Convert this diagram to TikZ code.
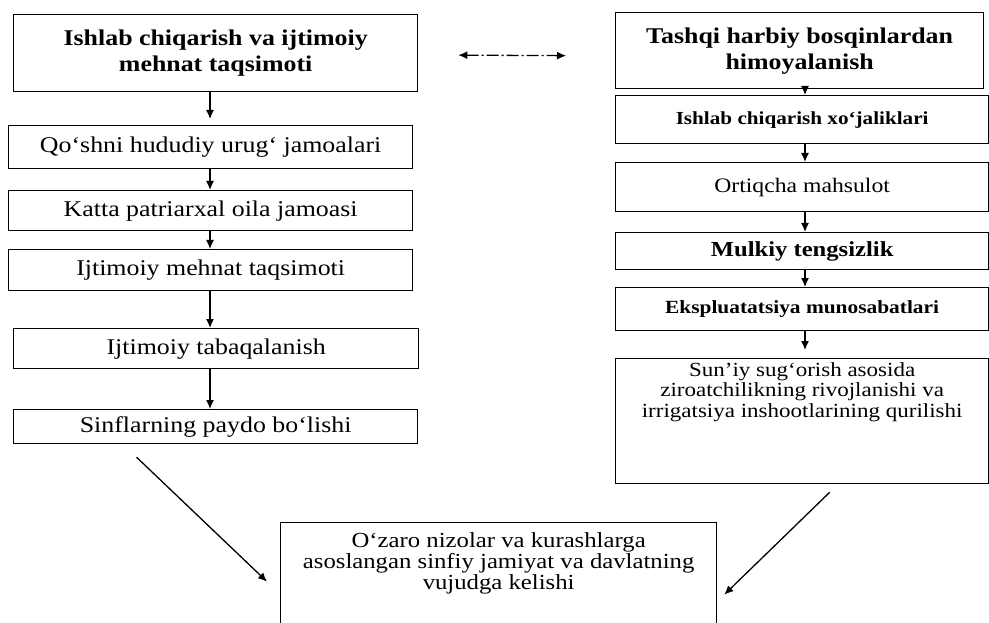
\documentclass[tikz,border=0pt]{standalone}
\usepackage{fontspec}
\setmainfont{Liberation Serif}[FakeStretch=1.15]
\usetikzlibrary{arrows.meta,calc}
\begin{document}
\begin{tikzpicture}[x=1pt,y=-1pt,
  box/.style={draw, line width=1.3pt, inner sep=0pt, align=center, anchor=north west},
  bigb/.style={font=\fontsize{22.5}{26}\selectfont\bfseries},
  reg/.style={font=\fontsize{22.5}{24}\selectfont},
  small/.style={font=\fontsize{20}{20.5}\selectfont},
  bsmall/.style={font=\fontsize{21.5}{21}\selectfont},
  arr/.style={line width=1.3pt, -{Latex[length=9pt,width=8pt]}},
  dbl/.style={line width=1.3pt, dash pattern=on 12pt off 3pt on 2pt off 3pt, {Latex[length=9pt,width=8pt]}-{Latex[length=9pt,width=8pt]}}]
\useasboundingbox (0,0) rectangle (989,623);
\clip (0,0) rectangle (989,623);
% left column
\node[box, bigb, minimum width=404pt, minimum height=77pt] (l1) at (13,14) {Ishlab chiqarish va ijtimoiy\\mehnat taqsimoti};
\node[box, reg, minimum width=404pt, minimum height=43pt] (l2) at (8,125) {Qo‘shni hududiy urug‘ jamoalari};
\node[box, reg, minimum width=404pt, minimum height=40pt] (l3) at (8,190) {Katta patriarxal oila jamoasi};
\node[box, reg, minimum width=404pt, minimum height=41pt] (l4) at (8,249) {Ijtimoiy mehnat taqsimoti};
\node[box, reg, minimum width=405pt, minimum height=40pt] (l5) at (13,328) {Ijtimoiy tabaqalanish};
\node[box, reg, minimum width=404pt, minimum height=34pt] (l6) at (13,409) {Sinflarning paydo bo‘lishi};
% right column
\node[box, bigb, minimum width=368pt, minimum height=76pt] (r1) at (615,12) {Tashqi harbiy bosqinlardan\\himoyalanish};
\node[box, font=\fontsize{18.4}{22}\selectfont\bfseries, minimum width=373pt, minimum height=48pt] (r2) at (615,95) {Ishlab chiqarish xo‘jaliklari};
\node[box, font=\fontsize{20.6}{24}\selectfont, minimum width=373pt, minimum height=49pt] (r3) at (615,162) {Ortiqcha mahsulot};
\node[box, font=\fontsize{21.4}{24}\selectfont\bfseries, minimum width=373pt, minimum height=37pt] (r4) at (615,232) {Mulkiy tengsizlik};
\node[box, font=\fontsize{18.6}{22}\selectfont\bfseries, minimum width=373pt, minimum height=43pt] (r5) at (615,287) {Ekspluatatsiya munosabatlari};
\node[box, minimum width=373pt, minimum height=125pt] (r6) at (615,358) {};
\node[small, align=center, anchor=north, inner sep=0pt] (r6t) at ($(r6.north)+(0,4)$) {Sun’iy sug‘orish asosida\\ziroatchilikning rivojlanishi va\\irrigatsiya inshootlarining qurilishi};
% bottom box
\node[box, minimum width=436pt, minimum height=110pt] (b) at (280,522) {};
\node[bsmall, align=center, anchor=north, inner sep=0pt] (bt) at ($(b.north)+(0,10)$) {O‘zaro nizolar va kurashlarga\\asoslangan sinfiy jamiyat va davlatning\\vujudga kelishi};
% arrow columns
\coordinate (lx) at (210,0);
\coordinate (rx) at (805,0);
\draw[arr] (l1.south -| lx) -- ($(l2.north -| lx)+(0,-6)$);
\draw[arr] (l2.south -| lx) -- (l3.north -| lx);
\draw[arr] (l3.south -| lx) -- (l4.north -| lx);
\draw[arr] (l4.south -| lx) -- (l5.north -| lx);
\draw[arr] (l5.south -| lx) -- (l6.north -| lx);
\draw[arr] (r1.south -| rx) -- (r2.north -| rx);
\draw[arr] (r2.south -| rx) -- (r3.north -| rx);
\draw[arr] (r3.south -| rx) -- (r4.north -| rx);
\draw[arr] (r4.south -| rx) -- (r5.north -| rx);
\draw[arr] (r5.south -| rx) -- ($(r6.north -| rx)+(0,-8)$);
% double arrow
\draw[dbl] ($(l1.east)+(40,2)$) -- ($(r1.west)+(-49,5)$);
% diagonals
\draw[arr] ($(l6.south)+(-79,13)$) -- ($(b.west)+(-13,4)$);
\draw[arr] ($(r6.south)+(27.5,8)$) -- ($(b.east)+(7,17)$);
\end{tikzpicture}
\end{document}
